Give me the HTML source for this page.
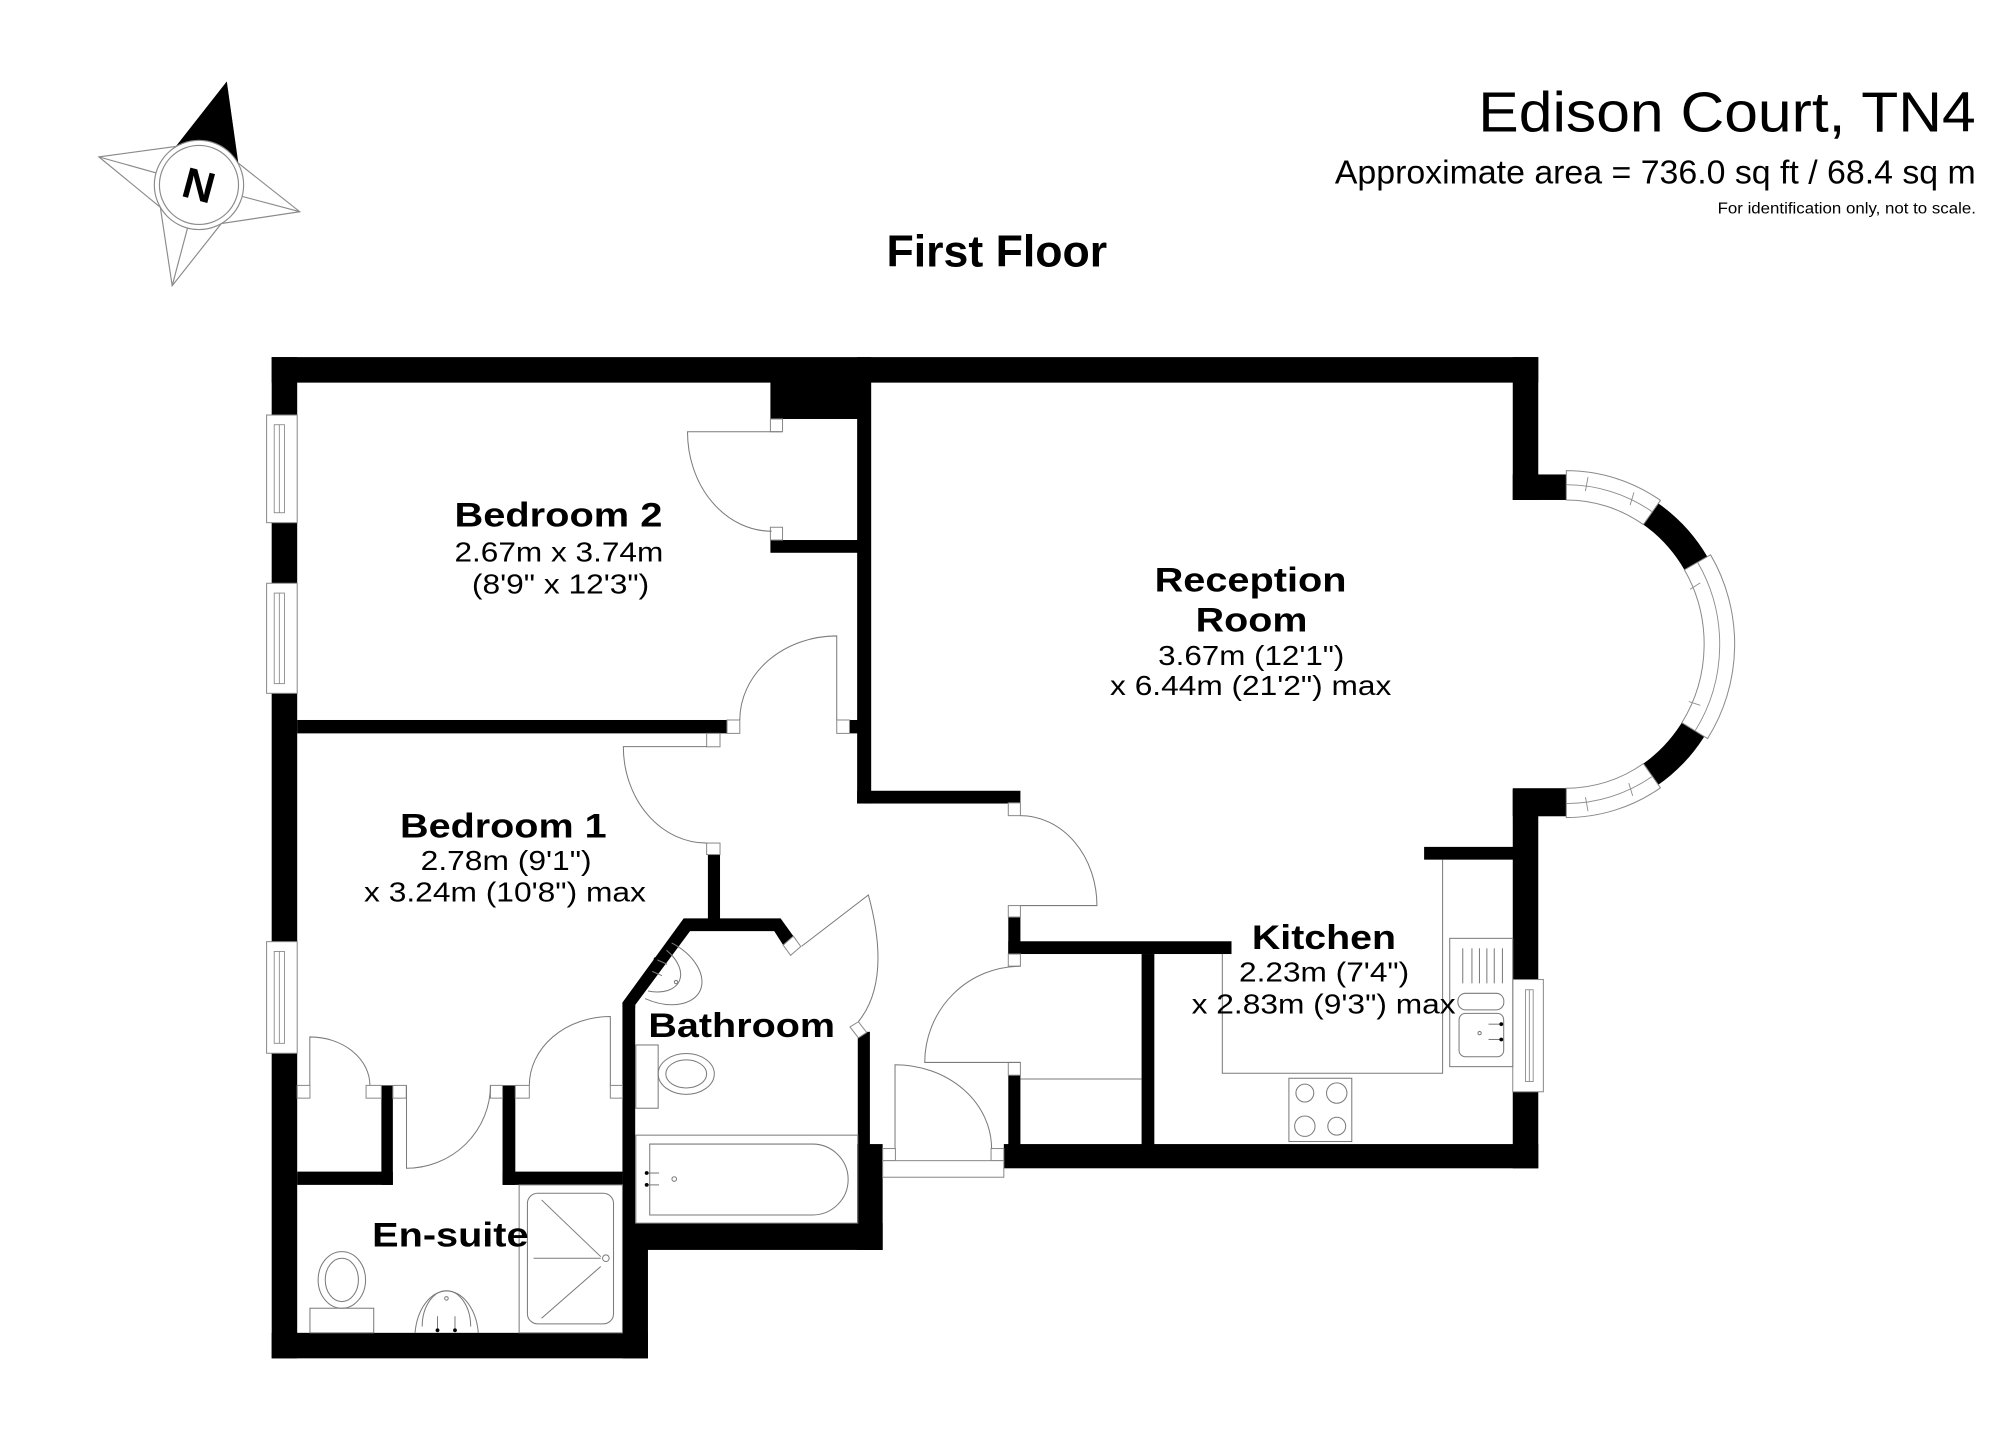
<!DOCTYPE html>
<html>
<head>
<meta charset="utf-8">
<style>
html,body{margin:0;padding:0;background:#fff;width:2000px;height:1454px;overflow:hidden}
svg{display:block}
text{font-family:"Liberation Sans",Arial,sans-serif;fill:#000}
</style>
</head>
<body>
<svg width="2000" height="1454" viewBox="0 0 1568 1140" preserveAspectRatio="none" xmlns="http://www.w3.org/2000/svg">
<rect x="0" y="0" width="1568" height="1140" fill="#fff"/>

<!-- Compass -->
<g stroke="#8a8a8a" stroke-width="0.9" fill="#fff">
  <polygon points="177.5,65 186.3,127.5 235,166 173.5,175.3 135,224 125.7,162.5 77.5,123 138.5,114.7"/>
  <line x1="177.5" y1="65" x2="156" y2="145"/>
  <line x1="235" y1="166" x2="156" y2="145"/>
  <line x1="135" y1="224" x2="156" y2="145"/>
  <line x1="77.5" y1="123" x2="156" y2="145"/>
  <polygon points="177.5,65 186.3,127.5 156,145 138.5,114.7" fill="#000" stroke="#000"/>
  <circle cx="156" cy="145" r="35" fill="#fff"/>
  <circle cx="156" cy="145" r="31" fill="#fff"/>
</g>
<text x="156" y="157" font-size="34" font-weight="bold" text-anchor="middle" transform="rotate(15 156 145)">N</text>

<!-- Header text -->
<text x="1159" y="103" font-size="44" textLength="390" lengthAdjust="spacingAndGlyphs">Edison Court, TN4</text>
<text x="1046.5" y="143.7" font-size="26" textLength="502.5" lengthAdjust="spacingAndGlyphs">Approximate area = 736.0 sq ft / 68.4 sq m</text>
<text x="1346.6" y="167.3" font-size="12" textLength="202.5" lengthAdjust="spacingAndGlyphs">For identification only, not to scale.</text>
<text x="695" y="209" font-size="35" font-weight="bold" textLength="173" lengthAdjust="spacingAndGlyphs">First Floor</text>

<!-- Walls -->
<g fill="#000">
  <rect x="213" y="280" width="993" height="20"/>
  <rect x="213" y="280" width="20" height="785"/>
  <rect x="213" y="1045" width="295" height="20"/>
  <rect x="488" y="959" width="20" height="106"/>
  <rect x="488" y="959" width="204" height="21"/>
  <rect x="672" y="897" width="20" height="83"/>
  <rect x="672.5" y="809" width="9.5" height="90"/>
  <rect x="488" y="786" width="10" height="175"/>
  <polygon points="488,790 488,786 536,720 612,720 622,734 614,741 607,730 541,730 498,788 498,790"/>
  <rect x="555" y="670" width="9.5" height="52"/>
  <rect x="233" y="564.5" width="337" height="10.5"/>
  <rect x="666" y="564.5" width="7" height="10.5"/>
  <rect x="672" y="280" width="11" height="350"/>
  <rect x="604" y="299" width="69" height="29.5"/>
  <rect x="604" y="423.4" width="69" height="10"/>
  <rect x="672" y="620" width="128" height="10"/>
  <rect x="790.5" y="719" width="9.5" height="29"/>
  <rect x="790.5" y="738" width="175" height="10"/>
  <rect x="895" y="748" width="10" height="150"/>
  <rect x="790.5" y="843" width="9.5" height="55"/>
  <rect x="787" y="897" width="419" height="19"/>
  <rect x="1186" y="619" width="20" height="297"/>
  <rect x="1186" y="280" width="20" height="112"/>
  <rect x="1186" y="372" width="44" height="20"/>
  <rect x="1186" y="618" width="44" height="22"/>
  <rect x="1116.5" y="664" width="70" height="10"/>
  <rect x="233" y="918.6" width="75" height="10.4"/>
  <rect x="299" y="851" width="9" height="78"/>
  <rect x="394" y="851" width="10" height="78"/>
  <rect x="394" y="918.6" width="94" height="10.4"/>
  <path d="M1228,372 A129,133 0 0 1 1228,638 L1228,618 A108,113 0 0 0 1228,392 Z"/>
</g>

<!-- Bay windows -->
<g fill="#fff" stroke="#8a8a8a" stroke-width="0.8">
  <path d="M1228,369 A132,136 0 0 1 1301.8,392.3 L1288.4,411.3 A108,113 0 0 0 1228,392 Z"/>
  <path d="M1341.1,435 A132,136 0 0 1 1338.7,579.1 L1318.6,566.6 A108,113 0 0 0 1320.6,446.8 Z"/>
  <path d="M1301.8,617.7 A132,136 0 0 1 1228,641 L1228,618 A108,113 0 0 0 1288.4,598.7 Z"/>
</g>
<g fill="none" stroke="#8a8a8a" stroke-width="0.7">
  <path d="M1228,380 A121,125 0 0 1 1295,401"/>
  <path d="M1331,441 A121,125 0 0 1 1329,573"/>
  <path d="M1295,609 A121,125 0 0 1 1228,630"/>
  <line x1="1245" y1="374" x2="1243" y2="385"/>
  <line x1="1281" y1="386" x2="1278" y2="396"/>
  <line x1="1333" y1="457" x2="1325" y2="462"/>
  <line x1="1333" y1="553" x2="1324" y2="550"/>
  <line x1="1280" y1="624" x2="1277" y2="614"/>
  <line x1="1245" y1="636" x2="1243" y2="625"/>
</g>

<!-- Side windows -->
<g fill="#fff" stroke="#8a8a8a" stroke-width="0.8">
  <rect x="209" y="325.4" width="24" height="84.4"/>
  <rect x="209" y="457.3" width="24" height="86.3"/>
  <rect x="209" y="738.3" width="24" height="87.5"/>
  <rect x="1186" y="768" width="24" height="88"/>
</g>
<g fill="none" stroke="#8a8a8a" stroke-width="0.7">
  <rect x="215" y="333" width="8" height="69"/>
  <line x1="219" y1="333" x2="219" y2="402"/>
  <rect x="215" y="465" width="8" height="71"/>
  <line x1="219" y1="465" x2="219" y2="536"/>
  <rect x="215" y="746" width="8" height="72"/>
  <line x1="219" y1="746" x2="219" y2="818"/>
  <rect x="1196" y="776" width="6" height="72"/>
  <line x1="1199" y1="776" x2="1199" y2="848"/>
</g>

<!-- Door jambs -->
<g fill="#fff" stroke="#8a8a8a" stroke-width="0.8">
  <rect x="604" y="328.5" width="9.5" height="10"/>
  <rect x="604" y="413.4" width="9.5" height="10"/>
  <rect x="570" y="564.5" width="10" height="10.5"/>
  <rect x="656" y="564.5" width="10" height="10.5"/>
  <rect x="554" y="575" width="10.5" height="10.5"/>
  <rect x="554" y="661" width="10.5" height="9"/>
  <rect x="790.5" y="629.5" width="9.5" height="10"/>
  <rect x="790.5" y="710" width="9.5" height="9"/>
  <rect x="790.5" y="748" width="9.5" height="9.5"/>
  <rect x="790.5" y="833" width="9.5" height="10"/>
  <rect x="692" y="900.5" width="10" height="9.5"/>
  <rect x="777" y="900.5" width="10" height="9.5"/>
  <rect x="692" y="910" width="95" height="13"/>
  <rect x="233" y="851" width="10" height="10"/>
  <rect x="287" y="851" width="12" height="10"/>
  <rect x="308" y="851" width="10.5" height="10"/>
  <rect x="384.5" y="851" width="9.5" height="10"/>
  <rect x="404" y="851" width="11" height="10"/>
  <rect x="478.5" y="851" width="9.5" height="10"/>
  <polygon points="622,734 614,741 619.8,749.1 627.8,742.1"/>
  <polygon points="666.4,805.2 673,801.1 679.5,809.5 673,813.7"/>
</g>

<!-- Door leaves and swings -->
<g fill="none" stroke="#7a7a7a" stroke-width="0.8">
  <path d="M613,338.5 L539,338.5 A66,78 0 0 0 605,416.5"/>
  <path d="M656,564.5 L656,498.6 A76,66 0 0 0 580,564.5"/>
  <path d="M554,585.4 L488.7,585.4 A65.3,75.6 0 0 0 554,661"/>
  <path d="M800,710 L860,710 A60,70.5 0 0 0 800,639.5"/>
  <path d="M800,833 L725,833 A75,75.4 0 0 1 800,757.6"/>
  <path d="M701.7,900.5 L701.7,834.8 A75.7,65.7 0 0 1 777.4,900.5"/>
  <path d="M242.9,851 L242.9,813 A47,38 0 0 1 290,851"/>
  <path d="M318.7,851 L318.7,916 A66,65 0 0 0 384.5,851"/>
  <path d="M478.5,851 L478.5,797 A63.5,54 0 0 0 415,851"/>
  <path d="M628.5,741.9 L680.8,701.7 Q699.1,768.6 673,801"/>
</g>

<!-- Kitchen fittings -->
<g fill="none" stroke="#7a7a7a" stroke-width="0.8">
  <polyline points="958.3,748 958.3,841.5 1131,841.5 1131,674"/>
  <line x1="800" y1="846" x2="895" y2="846"/>
  <rect x="1136.6" y="735.7" width="49.4" height="100.6" fill="#fff"/>
  <line x1="1146.8" y1="743.5" x2="1146.8" y2="771"/>
  <line x1="1154" y1="743.5" x2="1154" y2="771"/>
  <line x1="1159.9" y1="743.5" x2="1159.9" y2="771"/>
  <line x1="1165.7" y1="743.5" x2="1165.7" y2="771"/>
  <line x1="1171.5" y1="743.5" x2="1171.5" y2="771"/>
  <line x1="1177.9" y1="743.5" x2="1177.9" y2="771"/>
  <rect x="1143" y="778.8" width="36" height="13" rx="6"/>
  <rect x="1143.9" y="794.5" width="35" height="34" rx="5"/>
  <circle cx="1160" cy="810" r="1.3"/>
  <line x1="1167" y1="803" x2="1177" y2="803"/>
  <line x1="1167" y1="815" x2="1177" y2="815"/>
  <rect x="1010.5" y="845.4" width="49.3" height="49.6" fill="#fff"/>
  <circle cx="1023" cy="857" r="7"/>
  <circle cx="1048" cy="857" r="8"/>
  <circle cx="1023" cy="883" r="8"/>
  <circle cx="1048" cy="883" r="7"/>
</g>
<circle cx="1177" cy="803" r="1.5" fill="#000"/>
<circle cx="1177" cy="815" r="1.5" fill="#000"/>

<!-- Bathroom fittings -->
<g fill="none" stroke="#7a7a7a" stroke-width="0.8">
  <path d="M526.6,739.3 A24.2,38 116 0 1 505.7,782.9"/>
  <path d="M522.5,745 A19,31 116 0 1 508,777"/>
  <circle cx="530" cy="770" r="1.3"/>
  <line x1="514" y1="752" x2="523" y2="756"/>
  <line x1="510" y1="761" x2="519" y2="765"/>
  <rect x="498.5" y="819.3" width="17.5" height="49.6"/>
  <ellipse cx="538" cy="842" rx="22" ry="16"/>
  <ellipse cx="538" cy="842" rx="16" ry="11"/>
  <rect x="498.5" y="890" width="174" height="69"/>
  <path d="M509.4,897 H637 A28,27.8 0 0 1 637,952.6 H509.4 Z"/>
  <line x1="507" y1="919.7" x2="516.7" y2="919.7"/>
  <line x1="507" y1="929" x2="516.7" y2="929"/>
  <circle cx="528.6" cy="924.4" r="1.8"/>
</g>
<circle cx="507" cy="919.7" r="1.5" fill="#000"/>
<circle cx="507" cy="929" r="1.5" fill="#000"/>
<circle cx="514" cy="752" r="1.5" fill="#000"/>
<circle cx="510" cy="761" r="1.5" fill="#000"/>

<!-- En-suite fittings -->
<g fill="none" stroke="#7a7a7a" stroke-width="0.8">
  <rect x="243" y="1025.7" width="50" height="19.3"/>
  <ellipse cx="268" cy="1003.5" rx="18.6" ry="22.2"/>
  <ellipse cx="268" cy="1003.5" rx="13" ry="17"/>
  <path d="M325.4,1045 A25,37.5 0 0 1 375,1045"/>
  <path d="M331,1040 A19,28 0 0 1 369,1040"/>
  <circle cx="350" cy="1018" r="1.4"/>
  <line x1="343" y1="1032" x2="343" y2="1043"/>
  <line x1="356.7" y1="1032" x2="356.7" y2="1043"/>
  <rect x="407" y="929" width="81" height="116"/>
  <rect x="413.5" y="935.6" width="67.5" height="102.4" rx="8"/>
  <line x1="424.6" y1="940.8" x2="471" y2="985.3"/>
  <line x1="424.6" y1="1033.6" x2="471" y2="993"/>
  <line x1="418.3" y1="986.5" x2="471" y2="986.5"/>
  <circle cx="475" cy="986.5" r="2.6"/>
</g>
<circle cx="343" cy="1043" r="1.5" fill="#000"/>
<circle cx="356.7" cy="1043" r="1.5" fill="#000"/>

<!-- Room labels -->
<g>
  <text x="356.3" y="412.9" font-size="26.5" font-weight="bold" textLength="163" lengthAdjust="spacingAndGlyphs">Bedroom 2</text>
  <text x="356.3" y="440.3" font-size="22" textLength="163.7" lengthAdjust="spacingAndGlyphs">2.67m x 3.74m</text>
  <text x="370" y="465.2" font-size="22" textLength="139" lengthAdjust="spacingAndGlyphs">(8'9" x 12'3")</text>

  <text x="905.2" y="463.9" font-size="26.5" font-weight="bold" textLength="150.5" lengthAdjust="spacingAndGlyphs">Reception</text>
  <text x="937.4" y="495.3" font-size="26.5" font-weight="bold" textLength="87.6" lengthAdjust="spacingAndGlyphs">Room</text>
  <text x="908" y="521.4" font-size="22" textLength="146" lengthAdjust="spacingAndGlyphs">3.67m (12'1")</text>
  <text x="870.3" y="544.9" font-size="22" textLength="220.5" lengthAdjust="spacingAndGlyphs">x 6.44m (21'2") max</text>

  <text x="313.6" y="656.5" font-size="26.5" font-weight="bold" textLength="162" lengthAdjust="spacingAndGlyphs">Bedroom 1</text>
  <text x="329.8" y="682.1" font-size="22" textLength="134" lengthAdjust="spacingAndGlyphs">2.78m (9'1")</text>
  <text x="285.4" y="706.9" font-size="22" textLength="221" lengthAdjust="spacingAndGlyphs">x 3.24m (10'8") max</text>

  <text x="981.5" y="744" font-size="26.5" font-weight="bold" textLength="113" lengthAdjust="spacingAndGlyphs">Kitchen</text>
  <text x="971.4" y="769.6" font-size="22" textLength="133.4" lengthAdjust="spacingAndGlyphs">2.23m (7'4")</text>
  <text x="934.2" y="794.5" font-size="22" textLength="207" lengthAdjust="spacingAndGlyphs">x 2.83m (9'3") max</text>

  <text x="508.3" y="813.1" font-size="26.5" font-weight="bold" textLength="146.4" lengthAdjust="spacingAndGlyphs">Bathroom</text>
  <text x="291.8" y="977.4" font-size="26.5" font-weight="bold" textLength="122.6" lengthAdjust="spacingAndGlyphs">En-suite</text>
</g>
</svg>
</body>
</html>
